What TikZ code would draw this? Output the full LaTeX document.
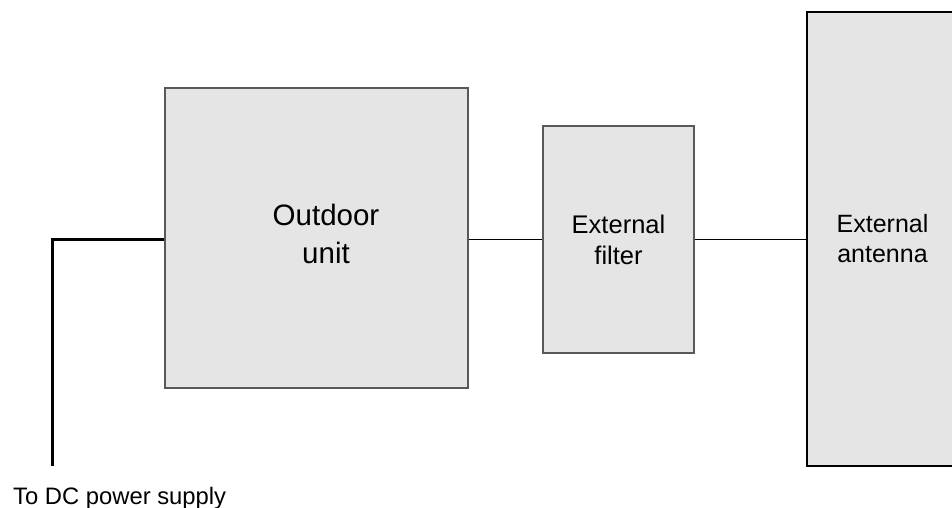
\documentclass[tikz,border=0pt]{standalone}
\usepackage{fontspec}
\setmainfont{Liberation Sans}
\definecolor{zzzzzz}{rgb}{0.898,0.898,0.898}
\definecolor{qqqqqq}{rgb}{0.35,0.35,0.35}
\begin{document}
\begin{tikzpicture}[line cap=butt,line join=miter,x=1pt,y=-1pt,
		unitbox/.style={draw=qqqqqq,fill=zzzzzz,line width=1.5pt,align=center,inner sep=0pt},
		link/.style={line width=1pt,color=black}]
		\useasboundingbox (0,0) rectangle (952,508);
		\clip (0,0) rectangle (952,508);
		% boxes
		\node [unitbox,minimum width=303pt,minimum height=300pt] (odu) at (316.5,238) {};
		\node [align=center,inner sep=0pt,font=\fontsize{29.5}{38}\selectfont] (odulabel) at ([xshift=9.5pt,yshift=4.5pt]odu.center) {Outdoor\\unit};
		\node [unitbox,draw=qqqqqq,line width=1.2pt,minimum width=151pt,minimum height=227pt,font=\fontsize{25.5}{31}\selectfont] (filt) at (618.5,239.5) {External\\filter};
		\node [unitbox,draw=black,line width=2pt,minimum width=151pt,minimum height=454pt,font=\fontsize{25}{30}\selectfont] (ant) at (882.5,239) {External\\antenna};
		% links
		\draw [link] (odu.east |- 0,239) -- (filt.west |- 0,239);
		\draw [link] (filt.east |- 0,239) -- (ant.west |- 0,239);
		% power feed
		\coordinate (dcend) at (52,466);
		\draw [line width=3pt] (odu.west |- 0,239) -| (dcend);
		\node [anchor=base west,inner sep=0pt,font=\fontsize{23.8}{28}\selectfont] (dc) at (13,504) {To DC power supply};
	\end{tikzpicture}
\end{document}
